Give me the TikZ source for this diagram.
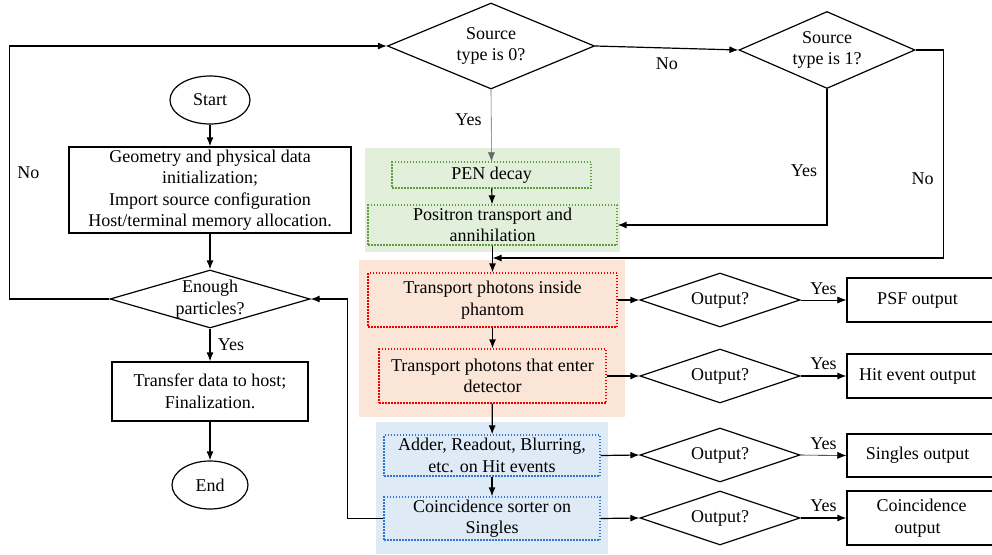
\documentclass[tikz,border=0pt]{standalone}
\usepackage{fontspec}
\setmainfont{Liberation Serif}
\usetikzlibrary{shapes.geometric,arrows.meta}
\definecolor{greenbg}{HTML}{E2EFDA}
\definecolor{redbg}{HTML}{FBE5D6}
\definecolor{bluebg}{HTML}{DEEBF7}
\definecolor{greenln}{HTML}{5E9E3A}
\definecolor{redln}{HTML}{F00000}
\definecolor{blueln}{HTML}{2E75D6}
\begin{document}
\begin{tikzpicture}[x=1pt,y=-1pt,every node/.style={font=\rmfamily\fontsize{18}{21.5}\selectfont}]
    \tikzset{decision/.style = {shape=diamond,draw,line width=1.2pt,inner sep=0pt,align=center}}
    \tikzset{process/.style = {shape=rectangle,draw,line width=1.2pt,inner sep=0pt,align=center}}
    \tikzset{terminal/.style = {shape=ellipse,draw,line width=1.2pt,inner sep=0pt}}
    \tikzset{stage/.style = {shape=rectangle,draw,dash pattern=on 1.5pt off 1.5pt,line width=1.2pt,inner sep=0pt,align=center}}
    \tikzset{edge/.style = {-{Latex[length=9pt,width=7pt]},line width=1.2pt}}
    \useasboundingbox (0,0) rectangle (992,554);
    % coloured groups
    \fill[greenbg] (365,148) rectangle (620,252);
    \fill[redbg] (359,260) rectangle (625,417);
    \fill[bluebg] (376,422) rectangle (608,554);
    % left column
    \node[terminal, minimum width=80pt, minimum height=48pt] (a) at (210,100) {Start};
    \node[process, minimum width=282pt, minimum height=86pt] (b) at (210,190) {Geometry and physical data\\initialization;\\Import source configuration\\Host/terminal memory allocation.};
    \node[decision, shape aspect=3.45, inner ysep=-14pt, minimum width=200pt, minimum height=58pt] (c) at (210,299) {Enough\\particles?};
    \node[process, minimum width=196pt, minimum height=59pt] (d) at (210,391.5) {Transfer data to host;\\Finalization.};
    \node[terminal, minimum width=76pt, minimum height=48pt] (e) at (210,485) {End};
    % source type checks
    \node[decision, shape aspect=2.4, inner ysep=-12pt, minimum width=207pt, minimum height=86pt] (s0) at (491,46) {Source\\type is 0?};
    \node[decision, shape aspect=2.29, inner ysep=-12pt, minimum width=176pt, minimum height=77pt] (s1) at (827,50) {Source\\type is 1?};
    % transport stages
    \node[stage, draw=greenln, minimum width=199pt, minimum height=26pt] (p) at (491.5,175) {PEN decay};
    \node[stage, draw=greenln, minimum width=249pt, minimum height=40pt] (q) at (492.5,225) {Positron transport and\\annihilation};
    \node[stage, draw=redln, minimum width=249pt, minimum height=54pt] (t1) at (492.5,300) {Transport photons inside\\phantom};
    \node[stage, draw=redln, minimum width=227pt, minimum height=54pt] (t2) at (492.5,376) {Transport photons that enter\\detector};
    \node[stage, draw=blueln, minimum width=216pt, minimum height=41pt] (t3) at (492,455.5) {Adder, Readout, Blurring,\\etc. on Hit events};
    \node[stage, draw=blueln, minimum width=216pt, minimum height=43pt] (t4) at (492,518.5) {Coincidence sorter on\\Singles};
    \coordinate (j) at (492.5,258);
    % output checks
    \node[decision, shape aspect=2.96, minimum width=160pt, minimum height=54pt] (o1) at (720,300) {Output?};
    \node[decision, shape aspect=2.96, minimum width=160pt, minimum height=54pt] (o2) at (720,376) {Output?};
    \node[decision, shape aspect=2.96, minimum width=160pt, minimum height=54pt] (o3) at (720,455) {Output?};
    \node[decision, shape aspect=2.96, minimum width=160pt, minimum height=54pt] (o4) at (720,518) {Output?};
    \node[process, minimum width=149pt, minimum height=44pt] (r1) at (921.5,300) {\hspace*{-4pt}PSF output\hspace*{4pt}};
    \node[process, minimum width=149pt, minimum height=44pt] (r2) at (921.5,376) {\hspace*{-4pt}Hit event output\hspace*{4pt}};
    \node[process, minimum width=149pt, minimum height=43pt] (r3) at (921.5,455.5) {\hspace*{-4pt}Singles output\hspace*{4pt}};
    \node[process, minimum width=149pt, minimum height=54pt] (r4) at (921.5,518) {Coincidence\\output\hspace*{8pt}};
    % connectors
    \draw[edge] (a) -- (b);
    \draw[edge] (b) -- (c);
    \draw[edge] (c) -- node[right=4pt]{Yes} (d);
    \draw[edge] (d) -- (e);
    \draw[edge] (c.west) -- ++(-100,0) |- node[pos=0.25,right=4pt]{No} (s0.west);
    \draw[edge] (s0.east) -- node[below=6pt]{No} (s1.west);
    \draw[edge, line width=0.6pt, black!60] (s0.south) -- node[pos=0.42, left=6pt, black]{Yes} (p.north);
    \draw[edge] (p) -- (q);
    \draw[edge] (s1.south) |- node[pos=0.3,left=6pt]{Yes} (q.east);
    \draw[edge] (s1.east) -- ++(28,0) |- node[pos=0.31,left=6pt]{No} (j);
    \draw[edge] (q) -- (t1);
    \draw[edge] (t1) -- (t2);
    \draw[edge] (t2) -- (t3);
    \draw[edge] (t3) -- (t4);
    \draw[edge] (t4.west) -- ++(-36,0) |- (c.east);
    \draw[edge] (t1.east) -- (o1.west);
    \draw[edge] (t2.east) -- (o2.west);
    \draw[edge] (t3.east) -- (o3.west);
    \draw[edge] (t4.east) -- (o4.west);
    \draw[edge, line width=0.6pt] (o1.east) -- node[above=2pt]{Yes} (r1.west);
    \draw[edge] (o2.east) -- node[above=2pt]{Yes} (r2.west);
    \draw[edge, line width=0.6pt] (o3.east) -- node[above=2pt]{Yes} (r3.west);
    \draw[edge] (o4.east) -- node[above=2pt]{Yes} (r4.west);
\end{tikzpicture}
\end{document}
